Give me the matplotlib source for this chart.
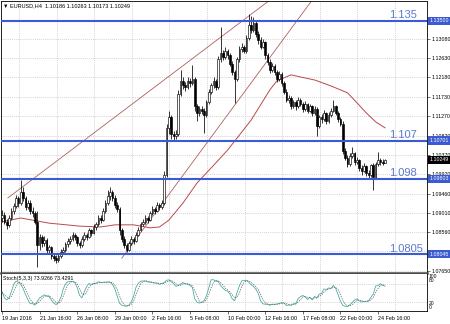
import numpy as np
import pandas as pd
import matplotlib
matplotlib.use("Agg")
import matplotlib.pyplot as plt
from matplotlib.transforms import blended_transform_factory

# ---- data (bar index 0 = 19 Jan 2016 00:00) ----
opens = [
    1.0888, 1.0895, 1.0880, 1.0872, 1.0890, 1.0905, 1.0918, 1.0935, 1.0925, 1.0950,
    1.0935, 1.0915, 1.0925, 1.0905, 1.0900, 1.0880, 1.0825, 1.0845, 1.0830, 1.0838,
    1.0815, 1.0820, 1.0800, 1.0795, 1.0790, 1.0800, 1.0810, 1.0815, 1.0828, 1.0835,
    1.0840, 1.0850, 1.0845, 1.0830, 1.0825, 1.0840, 1.0850, 1.0845, 1.0860, 1.0855,
    1.0868, 1.0875, 1.0890, 1.0885, 1.0905, 1.0925, 1.0940, 1.0950, 1.0935, 1.0920,
    1.0910, 1.0860, 1.0840, 1.0825, 1.0815, 1.0830, 1.0840, 1.0835, 1.0850, 1.0862,
    1.0875, 1.0880, 1.0890, 1.0885, 1.0900, 1.0910, 1.0905, 1.0920, 1.0915, 1.0925,
    1.0990, 1.1100, 1.1125, 1.1085, 1.1080, 1.1085, 1.1180, 1.1210, 1.1200, 1.1195,
    1.1210, 1.1205, 1.1215, 1.1150, 1.1135, 1.1145, 1.1140, 1.1130, 1.1160, 1.1185,
    1.1200, 1.1210, 1.1195, 1.1260, 1.1275, 1.1265, 1.1280, 1.1270, 1.1250, 1.1230,
    1.1215, 1.1260, 1.1285, 1.1290, 1.1280, 1.1310, 1.1340, 1.1330, 1.1345, 1.1320,
    1.1305, 1.1290, 1.1300, 1.1270, 1.1255, 1.1235, 1.1245, 1.1230, 1.1215, 1.1225,
    1.1205, 1.1185, 1.1165, 1.1170, 1.1150, 1.1160, 1.1150, 1.1165, 1.1155, 1.1145,
    1.1155, 1.1140, 1.1150, 1.1135, 1.1145, 1.1105, 1.1125, 1.1120, 1.1135, 1.1115,
    1.1130, 1.1140, 1.1150, 1.1135, 1.1120, 1.1110, 1.1045, 1.1030, 1.1015, 1.1035,
    1.1040, 1.1020, 1.1025, 1.1005, 1.1000, 1.1010, 1.0995, 1.0990, 1.1012, 1.0985,
    1.1015, 1.1025, 1.1020, 1.10186,
]
highs = [
    1.0908, 1.0902, 1.0886, 1.0896, 1.0912, 1.0924, 1.0942, 1.0940, 1.0978, 1.0962,
    1.0940, 1.0932, 1.0930, 1.0915, 1.0906, 1.0905, 1.0852, 1.0850, 1.0846, 1.0842,
    1.0826, 1.0824, 1.0808, 1.0802, 1.0806, 1.0816, 1.0820, 1.0834, 1.0842, 1.0846,
    1.0856, 1.0855, 1.0848, 1.0836, 1.0846, 1.0856, 1.0854, 1.0866, 1.0864, 1.0874,
    1.0880, 1.0896, 1.0895, 1.0912, 1.0932, 1.0955, 1.0962, 1.0954, 1.0942, 1.0926,
    1.0914, 1.0866, 1.0848, 1.0830, 1.0836, 1.0846, 1.0844, 1.0856, 1.0868, 1.0880,
    1.0886, 1.0896, 1.0894, 1.0906, 1.0916, 1.0914, 1.0926, 1.0924, 1.0932, 1.1000,
    1.1110, 1.1140, 1.1130, 1.1092, 1.1094, 1.1188, 1.1235, 1.1218, 1.1208, 1.1218,
    1.1216, 1.1247, 1.1220, 1.1156, 1.1152, 1.1150, 1.1146, 1.1166, 1.1192, 1.1206,
    1.1218, 1.1214, 1.1268, 1.1336, 1.1282, 1.1288, 1.1285, 1.1274, 1.1256, 1.1236,
    1.1266, 1.1292, 1.1298, 1.1294, 1.1318, 1.1366, 1.1362, 1.1360, 1.1350, 1.1326,
    1.1312, 1.1308, 1.1304, 1.1276, 1.1260, 1.1252, 1.1250, 1.1236, 1.1232, 1.1230,
    1.1210, 1.1190, 1.1178, 1.1175, 1.1166, 1.1164, 1.1172, 1.1170, 1.1160, 1.1162,
    1.1158, 1.1156, 1.1154, 1.1150, 1.1148, 1.1130, 1.1132, 1.1142, 1.1138, 1.1136,
    1.1146, 1.1165, 1.1154, 1.1140, 1.1125, 1.1115, 1.1052, 1.1036, 1.1040, 1.1055,
    1.1044, 1.1032, 1.1028, 1.1012, 1.1018, 1.1014, 1.1002, 1.1016, 1.1018, 1.1020,
    1.1043, 1.1030, 1.1026, 1.10263,
]
lows = [
    1.0880, 1.0874, 1.0864, 1.0868, 1.0884, 1.0898, 1.0912, 1.0915, 1.0920, 1.0928,
    1.0908, 1.0910, 1.0898, 1.0892, 1.0874, 1.0775, 1.0815, 1.0822, 1.0824, 1.0808,
    1.0806, 1.0794, 1.0788, 1.0784, 1.0786, 1.0796, 1.0804, 1.0810, 1.0822, 1.0828,
    1.0836, 1.0838, 1.0824, 1.0818, 1.0822, 1.0836, 1.0838, 1.0842, 1.0848, 1.0852,
    1.0862, 1.0870, 1.0878, 1.0882, 1.0900, 1.0920, 1.0932, 1.0928, 1.0912, 1.0902,
    1.0850, 1.0832, 1.0818, 1.0809, 1.0812, 1.0826, 1.0828, 1.0832, 1.0846, 1.0858,
    1.0870, 1.0876, 1.0878, 1.0882, 1.0896, 1.0898, 1.0902, 1.0908, 1.0910, 1.0920,
    1.0985, 1.1085, 1.1075, 1.1072, 1.1074, 1.1082, 1.1175, 1.1192, 1.1186, 1.1190,
    1.1196, 1.1200, 1.1140, 1.1115, 1.1128, 1.1132, 1.1088, 1.1126, 1.1155, 1.1180,
    1.1194, 1.1188, 1.1192, 1.1255, 1.1258, 1.1260, 1.1262, 1.1244, 1.1224, 1.1158,
    1.1210, 1.1255, 1.1278, 1.1274, 1.1276, 1.1305, 1.1322, 1.1325, 1.1312, 1.1296,
    1.1284, 1.1286, 1.1262, 1.1248, 1.1228, 1.1230, 1.1224, 1.1208, 1.1210, 1.1198,
    1.1180, 1.1160, 1.1158, 1.1145, 1.1146, 1.1142, 1.1146, 1.1150, 1.1138, 1.1140,
    1.1134, 1.1136, 1.1128, 1.1130, 1.1080, 1.1100, 1.1112, 1.1116, 1.1110, 1.1112,
    1.1126, 1.1136, 1.1130, 1.1114, 1.1104, 1.1038, 1.1024, 1.1008, 1.1010, 1.1030,
    1.1014, 1.1015, 1.0998, 1.0990, 1.0996, 1.0988, 1.0982, 1.0986, 1.0955, 1.0980,
    1.1010, 1.1012, 1.1012, 1.10173,
]
closes = [
    1.0895, 1.0880, 1.0872, 1.0890, 1.0905, 1.0918, 1.0935, 1.0925, 1.0950, 1.0935,
    1.0915, 1.0925, 1.0905, 1.0900, 1.0880, 1.0825, 1.0845, 1.0830, 1.0838, 1.0815,
    1.0820, 1.0800, 1.0795, 1.0790, 1.0800, 1.0810, 1.0815, 1.0828, 1.0835, 1.0840,
    1.0850, 1.0845, 1.0830, 1.0825, 1.0840, 1.0850, 1.0845, 1.0860, 1.0855, 1.0868,
    1.0875, 1.0890, 1.0885, 1.0905, 1.0925, 1.0940, 1.0950, 1.0935, 1.0920, 1.0910,
    1.0860, 1.0840, 1.0825, 1.0815, 1.0830, 1.0840, 1.0835, 1.0850, 1.0862, 1.0875,
    1.0880, 1.0890, 1.0885, 1.0900, 1.0910, 1.0905, 1.0920, 1.0915, 1.0925, 1.0990,
    1.1100, 1.1125, 1.1085, 1.1080, 1.1085, 1.1180, 1.1210, 1.1200, 1.1195, 1.1210,
    1.1205, 1.1215, 1.1150, 1.1135, 1.1145, 1.1140, 1.1130, 1.1160, 1.1185, 1.1200,
    1.1210, 1.1195, 1.1260, 1.1275, 1.1265, 1.1280, 1.1270, 1.1250, 1.1230, 1.1215,
    1.1260, 1.1285, 1.1290, 1.1280, 1.1310, 1.1340, 1.1330, 1.1345, 1.1320, 1.1305,
    1.1290, 1.1300, 1.1270, 1.1255, 1.1235, 1.1245, 1.1230, 1.1215, 1.1225, 1.1205,
    1.1185, 1.1165, 1.1170, 1.1150, 1.1160, 1.1150, 1.1165, 1.1155, 1.1145, 1.1155,
    1.1140, 1.1150, 1.1135, 1.1145, 1.1105, 1.1125, 1.1120, 1.1135, 1.1115, 1.1130,
    1.1140, 1.1150, 1.1135, 1.1120, 1.1110, 1.1045, 1.1030, 1.1015, 1.1035, 1.1040,
    1.1020, 1.1025, 1.1005, 1.1000, 1.1010, 1.0995, 1.0990, 1.1012, 1.0985, 1.1015,
    1.1025, 1.1020, 1.10186, 1.10249,
]

# moving average as drawn on the chart (bar index, price)
ma_bars = [0, 8, 20, 33, 42, 48, 56, 63, 67, 71, 77, 83, 91, 96, 106,
           114, 117, 123, 127, 133, 140, 147, 152, 155, 159, 163]
ma_vals = [1.0880, 1.0889, 1.0877, 1.0870, 1.0868, 1.0873, 1.0873, 1.0866, 1.0868,
           1.0884, 1.0924, 1.0971, 1.1018, 1.1048, 1.1118, 1.1189, 1.1210, 1.1224,
           1.1219, 1.1212, 1.1198, 1.1182, 1.1153, 1.1135, 1.1114, 1.1100]

# trend lines (two anchor points each, drawn as rays)
upper_trend = [(2.5, 1.0936), (114.0, 1.1399)]
lower_trend = [(51.0, 1.0795), (132.0, 1.1399)]

levels = [1.13500, 1.10701, 1.09803, 1.08045]
level_names = ["1.135", "1.107", "1.098", "1.0805"]
level_tags = ["1.13500", "1.10701", "1.09803", "1.08045"]

# grid rows of the price scale; the 1.08110 label sits under the 1.08045 tag
price_ticks = [1.13080, 1.12630, 1.12180, 1.11730, 1.11270, 1.10820, 1.10370,
               1.09920, 1.09460, 1.09010, 1.08560, 1.08110, 1.07650]
hidden_ticks = [1.08110]
last_price = 1.10249

time_labels = ["19 Jan 2016", "21 Jan 16:00", "26 Jan 08:00", "29 Jan 00:00",
               "2 Feb 16:00", "5 Feb 08:00", "10 Feb 00:00", "12 Feb 16:00",
               "17 Feb 08:00", "22 Feb 00:00", "24 Feb 16:00"]

# ---- figure ----
W, H = 450, 324
fig = plt.figure(figsize=(W / 100, H / 100), dpi=100, facecolor="white")
FONT = ["Liberation Sans", "DejaVu Sans"]
plt.rcParams["font.family"] = FONT


def box(x0, y0, x1, y1):
    return [x0 / W, 1 - y1 / H, (x1 - x0) / W, (y1 - y0) / H]


ax = fig.add_axes(box(1, 1, 427, 273))
axs = fig.add_axes(box(1, 274, 427, 311))

o = np.array(opens); h = np.array(highs); l = np.array(lows); c = np.array(closes)
x = np.arange(len(c))
XL = (-0.43, 180.85)
GRID = dict(color="#c4c4c4", lw=0.5, ls=(0, (1.5, 1.5)))

# grid
for a in (ax, axs):
    for gx in np.arange(7.23, XL[1], 16):
        a.axvline(gx, zorder=0, **GRID)
for t in price_ticks:
    ax.axhline(t, zorder=0, **GRID)
for lv in (20, 80):
    axs.axhline(lv, zorder=0, **GRID)

# candles
ax.vlines(x, l, h, color="black", lw=0.55, zorder=3)
bull = c >= o
body_lo = np.minimum(o, c)
body_hi = np.maximum(o, c)
ax.bar(x[bull], body_hi[bull] - body_lo[bull], bottom=body_lo[bull], width=0.7,
       color="white", edgecolor="black", linewidth=0.45, zorder=4)
ax.bar(x[~bull], body_hi[~bull] - body_lo[~bull], bottom=body_lo[~bull], width=0.7,
       color="black", edgecolor="black", linewidth=0.45, zorder=4)

# moving average and trend rays
ax.plot(ma_bars, ma_vals, color="#b84a4a", lw=0.7, zorder=2)
for (b0, p0), (b1, p1) in (upper_trend, lower_trend):
    k = (p1 - p0) / (b1 - b0)
    ax.plot([b0, 250], [p0, p0 + k * (250 - b0)], color="#b0605c", lw=0.6, zorder=2)

# horizontal levels
for lv, name in zip(levels, level_names):
    ax.axhline(lv, color="#3b5bd3", lw=1.5, zorder=5)
    ax.text(164.8, lv + 0.0006, name, fontsize=8, color="#5d79cc",
            ha="left", va="baseline", zorder=6)

ax.set_xlim(*XL)
ax.set_ylim(1.07603, 1.13968)
ax.set_xticks([])
ax.yaxis.tick_right()
ax.set_yticks(price_ticks)
ax.set_yticklabels(["" if t in hidden_ticks else f"{t:.5f}" for t in price_ticks])
ax.tick_params(axis="y", labelsize=3.8, length=2, width=0.4, pad=1.2, colors="black")
for s in ax.spines.values():
    s.set_linewidth(0.6)
ax.spines["bottom"].set_linewidth(1.8)
ax.spines["bottom"].set_color("#4a4a4a")

tr = blended_transform_factory(ax.transAxes, ax.transData)
for lv, tag in zip(levels, level_tags):
    ax.text(1.006, lv, tag, transform=tr, fontsize=3.8, color="white", ha="left",
            va="center", zorder=7, clip_on=False,
            bbox=dict(boxstyle="square,pad=0.35", fc="#3b5bd3", ec="none"))
ax.text(1.006, last_price, f"{last_price:.5f}", transform=tr, fontsize=3.8,
        color="white", ha="left", va="center", zorder=7, clip_on=False,
        bbox=dict(boxstyle="square,pad=0.35", fc="black", ec="none"))

# stochastic (5,3,3)
hs = pd.Series(h); ls_ = pd.Series(l); cs = pd.Series(c)
hh = hs.rolling(5, min_periods=1).max()
ll = ls_.rolling(5, min_periods=1).min()
num = (cs - ll).rolling(3, min_periods=1).sum()
den = (hh - ll).rolling(3, min_periods=1).sum()
k_line = 100 * num / den
d_line = k_line.rolling(3, min_periods=1).mean()
axs.plot(x, k_line, color="#3aa8a0", lw=0.55, zorder=3)
axs.plot(x, d_line, color="#606060", lw=0.5, ls=(0, (2, 1.5)), zorder=3)
axs.set_xlim(*XL)
axs.set_ylim(-10, 113)
axs.set_yticks([])
axs.set_xticks(np.arange(0, 161, 16))
axs.set_xticklabels(time_labels, ha="left")
axs.tick_params(axis="x", labelsize=3.9, length=2, width=0.4, pad=1.5)
for s in axs.spines.values():
    s.set_linewidth(0.6)
axs.spines["top"].set_visible(False)

for txt, py in (("100", 276), ("80", 280), ("20", 303.5), ("0", 307.5)):
    fig.text(429 / W, 1 - py / H, txt, fontsize=3.6, va="center", ha="left")

fig.text(3 / W, 1 - 5.5 / H, "\u25bc EURUSD,H4  1.10186 1.10263 1.10173 1.10249",
         fontsize=4, va="center", ha="left")
fig.text(3 / W, 1 - 278.5 / H, "Stoch(5,3,3) 73.9266 73.4291",
         fontsize=3.8, va="center", ha="left")

fig.savefig("out.png", dpi=100, facecolor="white")
